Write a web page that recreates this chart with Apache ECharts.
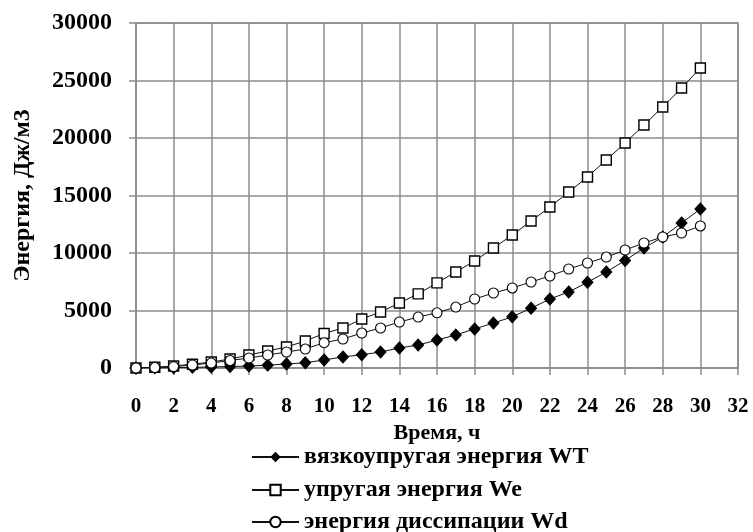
<!DOCTYPE html>
<html><head><meta charset="utf-8">
<script src="https://cdn.jsdelivr.net/npm/echarts@6/dist/echarts.min.js"></script>
<style>html,body{margin:0;padding:0;background:#fff}#c{width:753px;height:532px}</style>
</head><body><div id="c"></div>
<script>
const hours = [0,1,2,3,4,5,6,7,8,9,10,11,12,13,14,15,16,17,18,19,20,21,22,23,24,25,26,27,28,29,30];
const WT = [0,10,30,60,90,130,170,250,350,450,700,960,1150,1390,1740,2000,2430,2870,3400,3910,4450,5200,6000,6610,7450,8350,9350,10430,11390,12610,13830];
const We = [0,60,170,330,520,780,1130,1480,1830,2350,3000,3480,4260,4870,5650,6450,7400,8350,9300,10430,11570,12780,14000,15300,16610,18090,19570,21130,22700,24350,26090];
const Wd = [0,40,120,260,430,650,870,1130,1390,1650,2200,2520,3040,3480,4000,4430,4800,5300,6000,6520,6960,7480,8000,8610,9130,9650,10260,10870,11390,11740,12350];
const names = ['вязкоупругая энергия WT','упругая энергия We','энергия диссипации Wd'];
const xTitle = 'Время, ч';
const yTitle = 'Энергия, Дж/м3';

const FONT = 'Liberation Serif';
const pair = arr => hours.map((h,i)=>[h,arr[i]]);
const chart = echarts.init(document.getElementById('c'));
const lineStyle = {color:'#111', width:1};
const grey = '#8c8c8c';
const legendTops = [445, 478, 510];
const legends = names.map((n,i)=>({
  orient:'horizontal', left:251, top:legendTops[i], padding:0, itemWidth:47, itemHeight:13, itemGap:0,
  textStyle:{fontFamily:FONT, fontWeight:'bold', fontSize:24, color:'#000'},
  data:[n]
}));
chart.setOption({
  animation:false,
  grid:{left:136, right:15, top:23, bottom:164, show:true, borderColor:grey, borderWidth:1.5},
  xAxis:{type:'value', min:0, max:32, interval:2,
    name:xTitle, nameLocation:'middle', nameGap:51,
    nameTextStyle:{fontFamily:FONT, fontWeight:'bold', fontSize:22, color:'#000'},
    axisLine:{show:true, lineStyle:{color:grey, width:1.5}},
    axisTick:{show:true, length:7, lineStyle:{color:grey, width:1.5}},
    axisLabel:{fontFamily:FONT, fontWeight:'bold', fontSize:21, color:'#000', margin:28},
    splitLine:{show:true, lineStyle:{color:grey, width:1.5}}},
  yAxis:{type:'value', min:0, max:30000, interval:5000,
    name:yTitle, nameLocation:'middle', nameGap:101,
    nameTextStyle:{fontFamily:FONT, fontWeight:'bold', fontSize:24, color:'#000'},
    axisLine:{show:true, lineStyle:{color:grey, width:1.5}},
    axisTick:{show:true, length:7, lineStyle:{color:grey, width:1.5}},
    axisLabel:{fontFamily:FONT, fontWeight:'bold', fontSize:24, color:'#000', margin:24,
      formatter: v => String(v)},
    splitLine:{show:true, lineStyle:{color:grey, width:1.5}}},
  legend:legends,
  series:[
    {name:names[0], type:'line', data:pair(WT), symbol:'diamond', symbolSize:[11,12],
     itemStyle:{color:'#000', borderColor:'#000'}, lineStyle},
    {name:names[1], type:'line', data:pair(We), symbol:'rect', symbolSize:10,
     itemStyle:{color:'#fff', borderColor:'#000', borderWidth:1.4}, lineStyle},
    {name:names[2], type:'line', data:pair(Wd), symbol:'circle', symbolSize:10,
     itemStyle:{color:'#fff', borderColor:'#000', borderWidth:1.1}, lineStyle}
  ]
});
</script></body></html>
